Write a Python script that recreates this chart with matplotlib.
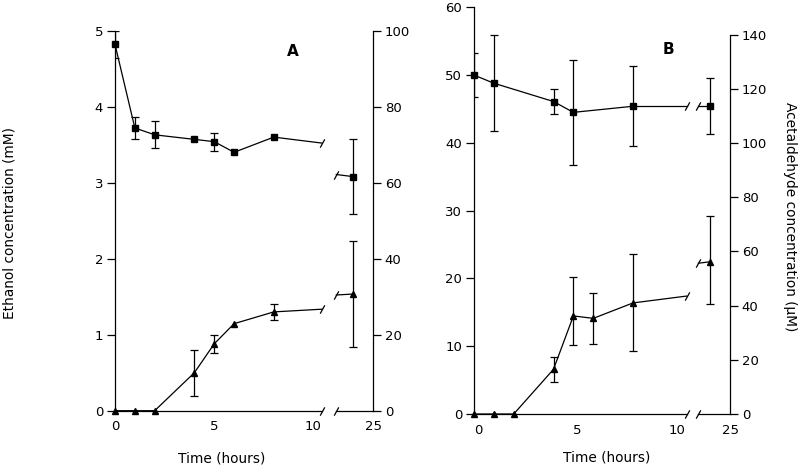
import numpy as np
import matplotlib
matplotlib.use("Agg")
import matplotlib.pyplot as plt

# --- Panel A data ---
a_time = [0, 1, 2, 4, 5, 6, 8, 24]
a_eth = [4.82, 3.72, 3.63, 3.57, 3.54, 3.40, 3.60, 3.08]            # mM (left)
a_eth_err = [0.18, 0.15, 0.18, 0, 0.12, 0, 0, 0.49]
a_ace = [0, 0, 0, 10.0, 17.6, 22.9, 26.0, 30.7]                      # uM (right)
a_ace_err = [0, 0, 0, 6.0, 2.4, 0, 2.0, 14.0]

# --- Panel B data ---
b_eth_time = [-0.2, 0.8, 3.8, 4.8, 7.8, 24]
b_eth = [50.0, 48.8, 46.1, 44.5, 45.4, 45.4]                         # mM (left)
b_eth_err = [3.2, 7.1, 1.9, 7.7, 5.9, 4.1]
b_ace_time = [-0.2, 0.8, 1.8, 3.8, 4.8, 5.8, 7.8, 24]
b_ace = [0, 0, 0, 16.5, 36.2, 35.3, 41.0, 56.2]                      # uM (right)
b_ace_lo = [0, 0, 0, 4.7, 10.9, 9.5, 17.6, 15.6]
b_ace_hi = [0, 0, 0, 4.7, 14.2, 9.5, 17.9, 16.7]

W, H = 800, 469
SLASH = [(-0.55, -1.0), (0.55, 1.0)]
LW = 0.9
FS = 9.5
LFS = 9.9

plt.rcParams['font.family'] = ['DejaVu Sans']
fig = plt.figure(figsize=(W / 100, H / 100), dpi=100)


def px_axes(x0, x1, y_top, y_bot):
    return fig.add_axes([x0 / W, 1 - y_bot / H, (x1 - x0) / W, (y_bot - y_top) / H])


def draw_series(ax, t, y, lo, hi, marker, offset, brk_l, brk_r):
    t = np.asarray(t, float)
    y = np.asarray(y, float)
    lo = np.asarray(lo, float)
    hi = np.asarray(hi, float)
    late = t > 20
    xp = np.where(late, t - offset, t)
    # early segment
    ax.plot(xp[~late], y[~late], color='k', lw=LW, zorder=2, clip_on=False)
    # broken connection to the late point (real-time interpolation)
    t1, y1 = t[~late][-1], y[~late][-1]
    t2, y2 = t[late][0], y[late][0]
    yl = np.interp(brk_l, [t1, t2], [y1, y2])
    yr = np.interp(brk_r + offset, [t1, t2], [y1, y2])
    ax.plot([t1, brk_l], [y1, yl], color='k', lw=LW, zorder=2)
    ax.plot([brk_r, t2 - offset], [yr, y2], color='k', lw=LW, zorder=2)
    ax.plot([brk_l, brk_r], [yl, yr], ls='none', marker=SLASH, ms=6,
            mec='k', mew=LW, zorder=2)
    # error bars
    m = (lo > 0) | (hi > 0)
    ax.errorbar(xp[m], y[m], yerr=[lo[m], hi[m]], fmt='none', ecolor='k',
                elinewidth=LW, capsize=3, capthick=LW, zorder=2)
    ax.plot(xp, y, ls='none', marker=marker, ms=4.6, color='k', zorder=3,
            clip_on=False)


def setup_panel(ax, ax2, xlim, offset, brk_l, brk_r, ylim, yticks, ylim2, yticks2, bound2):
    ax.set_xlim(*xlim)
    ax.set_ylim(*ylim)
    ax2.set_ylim(*ylim2)
    for s in ['top', 'right', 'bottom']:
        ax.spines[s].set_visible(False)
    for s in ['top', 'left', 'bottom']:
        ax2.spines[s].set_visible(False)
    ax.spines['left'].set_linewidth(LW)
    ax2.spines['right'].set_linewidth(LW)
    ax2.spines['right'].set_bounds(0, bound2)
    ax.set_yticks(yticks)
    ax2.set_yticks(yticks2)
    ax.set_xticks([0, 5, 10, 25 - offset])
    ax.set_xticklabels(['0', '5', '10', '25'])
    ax.tick_params(axis='x', length=0, pad=7, labelsize=FS)
    ax.tick_params(axis='y', direction='out', length=5.5, width=LW, pad=3, labelsize=FS)
    ax2.tick_params(axis='y', direction='out', length=5.5, width=LW, pad=3, labelsize=FS)
    tr = ax.get_xaxis_transform()
    ax.plot([xlim[0], brk_l], [0, 0], transform=tr, color='k', lw=LW, clip_on=False)
    ax.plot([brk_r, xlim[1]], [0, 0], transform=tr, color='k', lw=LW, clip_on=False)
    ax.plot([brk_l, brk_r], [0, 0], transform=tr, ls='none', marker=SLASH, ms=6,
            mec='k', mew=LW, clip_on=False)
    ax.patch.set_visible(False)
    ax2.patch.set_visible(False)


# Panel A
offA, blA, brA = 12.0, 10.44, 11.15
axA = px_axes(115, 373, 30.7, 410.7)
axA2 = axA.twinx()
setup_panel(axA, axA2, (0, 13), offA, blA, brA, (0, 5), range(0, 6),
            (0, 100), range(0, 101, 20), 100)
draw_series(axA, a_time, a_eth, a_eth_err, a_eth_err, 's', offA, blA, brA)
draw_series(axA2, a_time, a_ace, a_ace_err, a_ace_err, '^', offA, blA, brA)

# Panel B
offB, blB, brB = 12.32, 10.5, 11.09
axB = px_axes(474, 730, 7.3, 414)
axB2 = axB.twinx()
top2 = 140 * (414 - 7.3) / (414 - 34.7)
setup_panel(axB, axB2, (-0.2, 12.68), offB, blB, brB, (0, 60), range(0, 61, 10),
            (0, top2), range(0, 141, 20), 140)
draw_series(axB, b_eth_time, b_eth, b_eth_err, b_eth_err, 's', offB, blB, brB)
draw_series(axB2, b_ace_time, b_ace, b_ace_lo, b_ace_hi, '^', offB, blB, brB)

# labels
fig.text(10 / W, 1 - 223 / H, 'Ethanol concentration (mM)', rotation=90,
         ha='center', va='center', fontsize=LFS)
fig.text(790 / W, 1 - 217 / H, 'Acetaldehyde concentration (\u03bcM)', rotation=270,
         ha='center', va='center', fontsize=LFS)
fig.text(222 / W, 1 - 458 / H, 'Time (hours)', ha='center', va='center', fontsize=LFS)
fig.text(607 / W, 1 - 457 / H, 'Time (hours)', ha='center', va='center', fontsize=LFS)
fig.text(293 / W, 1 - 52 / H, 'A', ha='center', va='center', fontsize=11, fontweight='bold')
fig.text(668 / W, 1 - 49 / H, 'B', ha='center', va='center', fontsize=11, fontweight='bold')

fig.savefig('out.png', dpi=100)
